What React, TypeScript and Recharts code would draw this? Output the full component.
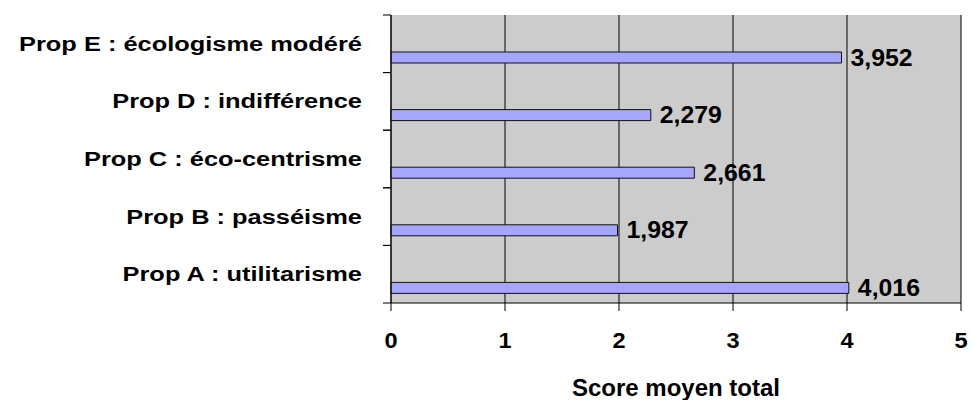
import { BarChart, Bar, XAxis, YAxis, CartesianGrid, LabelList } from 'recharts';

// categories, top to bottom
const propositions = [
  'Prop E : écologisme modéré',
  'Prop D : indifférence',
  'Prop C : éco-centrisme',
  'Prop B : passéisme',
  'Prop A : utilitarisme',
];
const scores = [3.952, 2.279, 2.661, 1.987, 4.016];
const scoreTicks = [0, 1, 2, 3, 4, 5];
const axisTitle = 'Score moyen total';

const data = propositions.map((name, i) => ({ name, score: scores[i], spacer: null }));

const FONT = 'Arial, "Liberation Sans", Helvetica, sans-serif';
const LABEL_GAP = 29;
const MARK_LEN = 8;
const formatScore = (v: number) => v.toFixed(3).replace('.', ',');

// bold text, widened a little horizontally
function WideText({ x, y, anchor = 'middle', size, stretch = 1, dy = '0', children }: any) {
  return (
    <g transform={`translate(${x},${y}) scale(${stretch},1)`}>
      <text x={0} y={0} dy={dy} textAnchor={anchor} fontFamily={FONT} fontWeight="bold" fontSize={size} fill="#000">
        {children}
      </text>
    </g>
  );
}

// category label plus the tick marks on the band edges
const CategoryTick = ({ x, y, payload }: any) => {
  const half = payload.offset ?? 0;
  const axisX = x + LABEL_GAP;
  return (
    <g>
      <line x1={axisX - MARK_LEN} x2={axisX} y1={y - half} y2={y - half} stroke="#000" />
      <line x1={axisX - MARK_LEN} x2={axisX} y1={y + half} y2={y + half} stroke="#000" />
      <WideText x={x} y={y} anchor="end" size={20} stretch={1.27} dy="0.35em">
        {payload.value}
      </WideText>
    </g>
  );
};

const ScoreTick = ({ x, y, payload }: any) => (
  <WideText x={x} y={y} size={22} stretch={1.07} dy="0.71em">
    {payload.value}
  </WideText>
);

const ValueLabel = ({ x, y, width, height, value }: any) => (
  <WideText x={x + width + 9} y={y + height / 2} anchor="start" size={23} stretch={1.08} dy="0.35em">
    {formatScore(value)}
  </WideText>
);

const AxisTitle = ({ viewBox }: any) => (
  <WideText x={viewBox.x + viewBox.width / 2} y={viewBox.y + viewBox.height - 4} size={24}>
    {axisTitle}
  </WideText>
);

export default function App() {
  return (
    <div style={{ position: 'absolute', left: 0, top: 0, width: 973, height: 400 }}>
      <BarChart
        width={973}
        height={400}
        data={data}
        layout="vertical"
        margin={{ top: 15, right: 12, bottom: 0, left: 0 }}
        barSize={11}
        barGap={17}
      >
        <CartesianGrid horizontal={false} stroke="#000" fill="#CCCCCC" fillOpacity={1} />
        <XAxis
          type="number"
          domain={[0, 5]}
          ticks={scoreTicks}
          interval={0}
          height={97}
          tickSize={8}
          tickMargin={21}
          axisLine={{ stroke: '#000' }}
          tickLine={{ stroke: '#000' }}
          tick={<ScoreTick />}
          label={{ content: <AxisTitle /> }}
        />
        <XAxis
          xAxisId="top"
          orientation="top"
          type="number"
          domain={[0, 5]}
          height={0}
          tick={false}
          tickLine={false}
          axisLine={{ stroke: '#888' }}
        />
        <YAxis
          type="category"
          dataKey="name"
          width={391}
          axisLine={{ stroke: '#000' }}
          tickLine={false}
          tickSize={0}
          tickMargin={LABEL_GAP}
          interval={0}
          tick={<CategoryTick />}
        />
        <YAxis
          yAxisId="right"
          orientation="right"
          type="number"
          domain={[0, 5]}
          width={0}
          tick={false}
          tickLine={false}
          axisLine={{ stroke: '#888' }}
        />
        <Bar dataKey="spacer" fill="none" isAnimationActive={false} />
        <Bar dataKey="score" fill="#A6A6FF" stroke="#111" strokeWidth={1} isAnimationActive={false}>
          <LabelList dataKey="score" content={<ValueLabel />} />
        </Bar>
      </BarChart>
    </div>
  );
}
